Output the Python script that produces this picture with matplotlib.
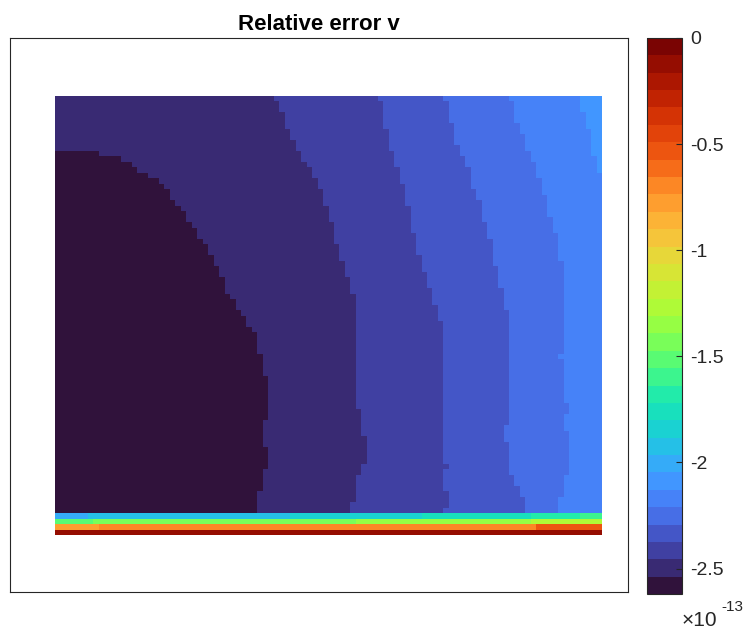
import numpy as np
import matplotlib
matplotlib.use("Agg")
import matplotlib.pyplot as plt
from matplotlib.colors import ListedColormap

plt.rcParams['font.family'] = ['Liberation Sans', 'DejaVu Sans']
plt.rcParams['axes.unicode_minus'] = False

# grid size of the error field
ncols, nrows = 100, 80
nlev = 32
vmin, vmax = -2.62e-13, 0.0

# main field: column where each colour band starts, as (value, number of rows) runs
edge_b0 = [(0, 10), (8, 1), (12, 1), (14, 1), (15, 1), (17, 1), (19, 1), (20, 1), (21, 2), (22, 1),
           (23, 1), (24, 2), (25, 1), (26, 2), (27, 1), (28, 2), (29, 2), (30, 2), (31, 3), (32, 1),
           (33, 2), (34, 1), (35, 2), (36, 1), (37, 4), (38, 4), (39, 8), (38, 5), (39, 4), (38, 4), (37, 4)]
edge_b1 = [(40, 1), (41, 2), (42, 3), (43, 2), (44, 2), (45, 2), (46, 1), (47, 2), (48, 2), (49, 3),
           (50, 3), (51, 4), (52, 3), (53, 3), (54, 3), (55, 21), (56, 5), (57, 5), (56, 2), (55, 5), (54, 2)]
edge_b2 = [(59, 1), (60, 5), (61, 4), (62, 3), (63, 3), (64, 4), (65, 5), (66, 4), (67, 3), (68, 3),
           (69, 3), (70, 3), (71, 26), (72, 1), (71, 4), (72, 3), (71, 1)]
edge_b3 = [(71, 1), (72, 4), (73, 4), (74, 2), (75, 2), (76, 4), (77, 2), (78, 4), (79, 3), (80, 5),
           (81, 4), (82, 4), (83, 21), (82, 3), (83, 6), (84, 2), (85, 2), (86, 3)]
edge_b4 = [(83, 1), (84, 4), (85, 2), (86, 3), (87, 2), (88, 3), (89, 3), (90, 4), (91, 3), (92, 5),
           (93, 17), (92, 1), (93, 8), (94, 2), (93, 3), (94, 8), (93, 4), (92, 3)]
edge_b5 = [(96, 3), (97, 3), (98, 5), (99, 3), (100, 62)]

# bottom four rows: (colour level, number of columns) runs
row76 = [(7, 6), (8, 37), (9, 24), (10, 20), (11, 9), (12, 4)]
row77 = [(13, 7), (14, 48), (15, 32), (16, 13)]
row78 = [(22, 8), (23, 80), (25, 12)]
row79 = [(30, 100)]


def unrun(runs):
    vals, counts = zip(*runs)
    return np.repeat(vals, counts)


edges = np.vstack([unrun(e) for e in (edge_b0, edge_b1, edge_b2, edge_b3, edge_b4, edge_b5)])
cols = np.arange(ncols)
levels = np.zeros((nrows, ncols), dtype=int)
for r in range(edges.shape[1]):
    levels[r] = (cols[None, :] >= edges[:, r][:, None]).sum(axis=0)
for r, runs in zip(range(76, 80), (row76, row77, row78, row79)):
    levels[r] = unrun(runs)

step = (vmax - vmin) / nlev
err = vmin + (levels + 0.5) * step

cmap = ListedColormap(plt.get_cmap('turbo')(np.linspace(0, 1, nlev)))

fig = plt.figure(figsize=(7.44, 6.3), dpi=100)
ax = fig.add_axes([10 / 744, 38 / 630, 618 / 744, 554 / 630])
mesh = ax.pcolormesh(np.arange(ncols + 1), np.arange(nrows + 1), err, cmap=cmap,
                     vmin=vmin, vmax=vmax, shading='flat', antialiased=False, linewidth=0)
ax.set_xlim(-8.23, 104.75)
ax.set_ylim(90.35, -10.56)
ax.set_xticks([])
ax.set_yticks([])
for s in ax.spines.values():
    s.set_linewidth(0.8)
    s.set_color('#262626')
ax.set_title('Relative error v', fontsize=16, fontweight='bold', pad=6)

cax = fig.add_axes([647 / 744, 36 / 630, 35 / 744, 556 / 630])
cb = fig.colorbar(mesh, cax=cax)
ticks = [0, -0.5, -1, -1.5, -2, -2.5]
cb.set_ticks([t * 1e-13 for t in ticks])
cb.set_ticklabels(['0', '-0.5', '-1', '-1.5', '-2', '-2.5'])
cax.tick_params(direction='in', length=4, width=0.8, labelsize=14, color='#262626',
                labelcolor='#262626', pad=6)
cb.outline.set_linewidth(0.8)
cb.outline.set_edgecolor('#262626')

fig.text(682 / 744, 4 / 630, '\u00d710', fontsize=15, ha='left', va='baseline', color='#262626')
fig.text(721 / 744, 19 / 630, '-13', fontsize=11, ha='left', va='baseline', color='#262626')

fig.savefig('out.png', dpi=100)
